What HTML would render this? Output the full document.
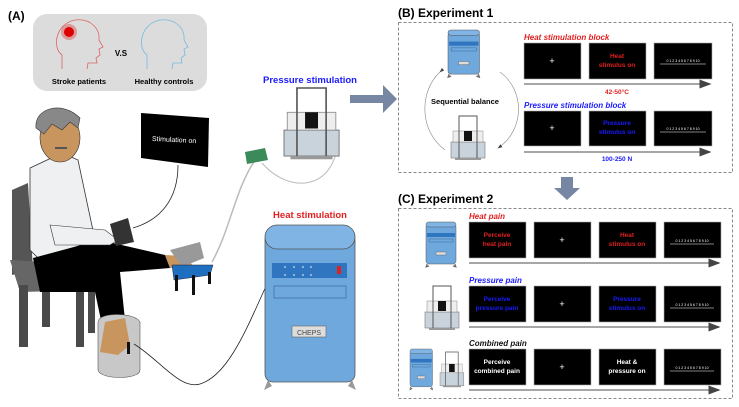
<!DOCTYPE html>
<html><head><meta charset="utf-8"><style>
html,body{margin:0;padding:0;background:#fff;}
svg{display:block;font-family:"Liberation Sans",Arial,sans-serif;}
</style></head><body>
<svg width="739" height="407" viewBox="0 0 739 407" xmlns="http://www.w3.org/2000/svg">
<defs>
<g id="cheps">
 <rect x="0" y="2" width="30" height="40" rx="3" fill="#6fa8dc" stroke="#555" stroke-width="0.5"/>
 <rect x="0" y="0" width="30" height="5" rx="2.5" fill="#7fb4e4" stroke="#555" stroke-width="0.5"/>
 <rect x="1" y="11" width="28" height="4" fill="#2f75c0"/>
 <rect x="3" y="17" width="24" height="3" fill="none" stroke="#3a6a9a" stroke-width="0.5"/>
 <rect x="10" y="30" width="10" height="3" fill="#ddd" stroke="#555" stroke-width="0.4"/>
 <path d="M1 42 l-1 3 l3 -1 M29 42 l1 3 l-3 -1" stroke="#666" fill="#999"/>
</g>
<g id="press">
 <rect x="0" y="26" width="34" height="16" fill="#c9d3dc" stroke="#777" stroke-width="0.6"/>
 <rect x="2" y="15" width="30" height="11" fill="#eee" stroke="#888" stroke-width="0.5"/>
 <rect x="13" y="15" width="8" height="10" fill="#111"/>
 <path d="M8 42 V0 H26 V42" stroke="#555" stroke-width="1" fill="none"/>
 <rect x="4" y="42" width="26" height="2" fill="#999"/>
</g>
<marker id="ah" markerWidth="8" markerHeight="6" refX="7" refY="3" orient="auto"><path d="M0 0 L8 3 L0 6 Z" fill="#444"/></marker>
</defs>

<!-- PANEL A -->
<text x="8" y="20" font-size="12" font-weight="bold">(A)</text>
<rect x="33" y="14" width="174" height="77" rx="14" fill="#dcdcdc"/>
<path d="M62 69 L62 55 C52 48 55 24 75 20 C92 18 100 30 99 40 L103 47 L99 49 L100 55 L96 58 L97 63 L88 63 L87 69" fill="none" stroke="#d66" stroke-width="0.8"/>
<circle cx="69" cy="32" r="5" fill="#d00"/>
<circle cx="69" cy="32" r="8" fill="#d00" opacity="0.3"/>
<path d="M147 69 L147 55 C137 48 140 24 160 20 C177 18 185 30 184 40 L188 47 L184 49 L185 55 L181 58 L182 63 L173 63 L172 69" fill="none" stroke="#7bd" stroke-width="0.8"/>
<text x="121" y="56" font-size="8" font-weight="bold" text-anchor="middle">V.S</text>
<text x="79" y="84" font-size="7.5" font-weight="bold" text-anchor="middle">Stroke patients</text>
<text x="164" y="84" font-size="7.5" font-weight="bold" text-anchor="middle">Healthy controls</text>

<polygon points="141,113 209,118 208,167 141,158" fill="#000"/>
<text x="174" y="142" font-size="7" fill="#fff" text-anchor="middle" transform="rotate(3 174 142)">Stimulation on</text>
<path d="M178 165 C178 200 160 220 133 228" fill="none" stroke="#222" stroke-width="0.8"/>

<path d="M12 190 L28 183 L33 270 L12 275 Z" fill="#555"/>
<path d="M10 260 L95 265 L100 290 L20 292 Z" fill="#666"/>
<rect x="19" y="285" width="9" height="62" fill="#4a4a4a"/>
<rect x="42" y="285" width="8" height="42" fill="#4a4a4a"/>
<rect x="76" y="285" width="8" height="62" fill="#4a4a4a"/>
<rect x="88" y="285" width="7" height="48" fill="#4a4a4a"/>

<path d="M30 168 L62 153 L78 160 L95 240 L40 260 L30 250 Z" fill="#eef0f2" stroke="#333" stroke-width="0.8"/>
<path d="M33 258 L100 240 L165 255 L170 268 L120 272 L125 320 L102 325 L95 292 L40 292 Z" fill="#000"/>
<path d="M105 322 L125 318 L130 345 L118 355 L100 352 Z" fill="#c8955e"/>
<path d="M165 255 L185 256 L195 268 L170 268 Z" fill="#c8955e"/>
<path d="M170 250 L200 242 L204 258 L182 267 Z" fill="#999"/>
<path d="M50 225 L105 230 L118 240 L110 245 L55 245 Z" fill="#eef0f2" stroke="#333" stroke-width="0.6"/>
<polygon points="110,224 128,218 134,242 116,246" fill="#333"/>
<ellipse cx="60" cy="138" rx="20" ry="24" fill="#c8955e" stroke="#333" stroke-width="0.6"/>
<path d="M36 128 C34 108 62 100 80 118 L78 128 L70 122 L62 130 L52 124 L44 134 Z" fill="#888" stroke="#333" stroke-width="0.6"/>
<path d="M55 148 h12" stroke="#555" stroke-width="2"/>
<path d="M98 322 C98 312 135 312 140 322 L140 370 C140 380 100 380 98 370 Z" fill="#c8c8c8" stroke="#555" stroke-width="0.6"/>
<path d="M105 322 L125 318 L130 345 L118 355 L100 352 Z" fill="#c8955e"/>
<rect x="127" y="342" width="3" height="12" fill="#111"/>
<polygon points="172,265 213,265 210,275 174,280" fill="#1f6fc0" stroke="#223" stroke-width="0.5"/>
<rect x="175" y="275" width="3" height="16" fill="#111"/><rect x="192" y="275" width="3" height="20" fill="#111"/><rect x="208" y="272" width="3" height="12" fill="#111"/>
<path d="M255 160 C235 190 230 230 212 262" fill="none" stroke="#bbb" stroke-width="1.5"/>
<path d="M262 163 C290 195 335 190 338 140" fill="none" stroke="#bbb" stroke-width="1"/>
<path d="M134 344 C160 360 180 390 200 384 C230 375 250 320 268 282" fill="none" stroke="#222" stroke-width="0.8"/>
<polygon points="245,152 265,148 268,160 247,164" fill="#3a8a5a"/>

<text x="310" y="83" font-size="9.5" font-weight="bold" fill="#1a1aff" text-anchor="middle">Pressure stimulation</text>
<g transform="translate(284,88) scale(1.62)"><use href="#press"/></g>
<polygon points="350,95 383,95 383,85 397,99 383,113 383,103 350,103" fill="#7686a3"/>

<text x="310" y="218" font-size="9.5" font-weight="bold" fill="#e02020" text-anchor="middle">Heat stimulation</text>
<rect x="265" y="232" width="90" height="150" rx="8" fill="#6fa8dc" stroke="#555" stroke-width="0.8"/>
<rect x="265" y="225" width="90" height="24" rx="12" fill="#7fb4e4" stroke="#555" stroke-width="0.8"/>
<rect x="272" y="263" width="75" height="15" fill="#2f75c0"/>
<rect x="337" y="266" width="4" height="8" fill="#d22"/>
<g fill="#fff"><circle cx="285" cy="267" r="0.8"/><circle cx="294" cy="267" r="0.8"/><circle cx="303" cy="267" r="0.8"/><circle cx="311" cy="267" r="0.8"/><circle cx="285" cy="275" r="0.8"/><circle cx="294" cy="275" r="0.8"/><circle cx="303" cy="275" r="0.8"/><circle cx="311" cy="275" r="0.8"/></g>
<rect x="274" y="286" width="72" height="12" fill="none" stroke="#3a6a9a" stroke-width="0.7"/>
<rect x="292" y="326" width="34" height="11" fill="#ddd" stroke="#666" stroke-width="0.6"/>
<text x="309" y="335" font-size="7" fill="#444" text-anchor="middle">CHEPS</text>
<path d="M268 380 l-4 10 l8 -4 Z M352 380 l4 10 l-8 -4 Z" fill="#999"/>

<!-- PANEL B -->
<text x="398" y="17" font-size="12" font-weight="bold">(B) Experiment 1</text>
<rect x="398.5" y="22.5" width="334" height="150" fill="none" stroke="#888" stroke-dasharray="3,2"/>
<g transform="translate(448,30) scale(1.05)"><use href="#cheps"/></g>
<g transform="translate(451,116) scale(1.0)"><use href="#press"/></g>
<path d="M440 72 C420 90 418 130 445 150" fill="none" stroke="#888" stroke-width="0.6" marker-start="url(#ah)"/>
<path d="M500 72 C525 90 525 130 498 148" fill="none" stroke="#888" stroke-width="0.6" marker-end="url(#ah)"/>
<rect x="428" y="94" width="86" height="14" fill="#fff"/>
<text x="465" y="104" font-size="7.5" font-weight="bold" text-anchor="middle">Sequential balance</text>

<text x="524" y="40" font-size="8" font-weight="bold" font-style="italic" fill="#e02020">Heat stimulation block</text>
<rect x="524" y="43" width="57" height="36" fill="#000" stroke="#aaa" stroke-width="0.6"/>
<rect x="589" y="43" width="57" height="36" fill="#000" stroke="#aaa" stroke-width="0.6"/>
<rect x="654" y="43" width="58" height="36" fill="#000" stroke="#aaa" stroke-width="0.6"/>
<text x="552" y="64" font-size="9" fill="#fff" text-anchor="middle">+</text>
<text x="617" y="58" font-size="6.5" font-weight="bold" fill="#e02020" text-anchor="middle">Heat</text>
<text x="617" y="67" font-size="6.5" font-weight="bold" fill="#e02020" text-anchor="middle">stimulus on</text>
<text x="683" y="62" font-size="3.5" fill="#fff" text-anchor="middle">0 1 2 3 4 5 6 7 8 9 10</text>
<line x1="660" y1="64" x2="706" y2="64" stroke="#fff" stroke-width="0.5"/>
<line x1="524" y1="84" x2="710" y2="84" stroke="#888" stroke-width="1.5" marker-end="url(#ah)"/>
<text x="617" y="94" font-size="6.5" font-weight="bold" fill="#e02020" text-anchor="middle">42-50°C</text>

<text x="524" y="108" font-size="8" font-weight="bold" font-style="italic" fill="#1a1aff">Pressure stimulation block</text>
<rect x="524" y="111" width="57" height="35" fill="#000" stroke="#aaa" stroke-width="0.6"/>
<rect x="589" y="111" width="57" height="35" fill="#000" stroke="#aaa" stroke-width="0.6"/>
<rect x="654" y="111" width="58" height="35" fill="#000" stroke="#aaa" stroke-width="0.6"/>
<text x="552" y="131" font-size="9" fill="#fff" text-anchor="middle">+</text>
<text x="617" y="125" font-size="6.5" font-weight="bold" fill="#1a1aff" text-anchor="middle">Pressure</text>
<text x="617" y="134" font-size="6.5" font-weight="bold" fill="#1a1aff" text-anchor="middle">stimulus on</text>
<text x="683" y="130" font-size="3.5" fill="#fff" text-anchor="middle">0 1 2 3 4 5 6 7 8 9 10</text>
<line x1="660" y1="132" x2="706" y2="132" stroke="#fff" stroke-width="0.5"/>
<line x1="524" y1="152" x2="710" y2="152" stroke="#888" stroke-width="1.5" marker-end="url(#ah)"/>
<text x="617" y="161" font-size="6.5" font-weight="bold" fill="#1a1aff" text-anchor="middle">100-250 N</text>

<polygon points="561,177 573,177 573,188 580,188 567,200 554,188 561,188" fill="#7686a3"/>

<!-- PANEL C -->
<text x="398" y="203" font-size="12" font-weight="bold">(C) Experiment 2</text>
<rect x="398.5" y="208.5" width="334" height="190" fill="none" stroke="#888" stroke-dasharray="3,2"/>
<g transform="translate(426,222)"><use href="#cheps"/></g>
<g transform="translate(425,286) scale(1.0)"><use href="#press"/></g>
<g transform="translate(410,349) scale(0.75 0.9)"><use href="#cheps"/></g>
<g transform="translate(440,352) scale(0.7 0.8)"><use href="#press"/></g>

<g font-weight="bold" text-anchor="middle">
<text x="469" y="219" font-size="8" font-style="italic" fill="#e02020" text-anchor="start">Heat pain</text>
<rect x="469" y="222" width="57" height="36" fill="#000" stroke="#aaa" stroke-width="0.6"/>
<rect x="534" y="222" width="57" height="36" fill="#000" stroke="#aaa" stroke-width="0.6"/>
<rect x="599" y="222" width="57" height="36" fill="#000" stroke="#aaa" stroke-width="0.6"/>
<rect x="664" y="222" width="57" height="36" fill="#000" stroke="#aaa" stroke-width="0.6"/>
<text x="497" y="237" font-size="6.5" fill="#e02020">Perceive</text>
<text x="497" y="246" font-size="6.5" fill="#e02020">heat pain</text>
<text x="562" y="243" font-size="9" fill="#fff" font-weight="normal">+</text>
<text x="627" y="237" font-size="6.5" fill="#e02020">Heat</text>
<text x="627" y="246" font-size="6.5" fill="#e02020">stimulus on</text>
<text x="692" y="242" font-size="3.5" fill="#fff" font-weight="normal">0 1 2 3 4 5 6 7 8 9 10</text>
<line x1="670" y1="244" x2="714" y2="244" stroke="#fff" stroke-width="0.5"/>
<line x1="469" y1="263" x2="719" y2="263" stroke="#888" stroke-width="1.5" marker-end="url(#ah)"/>

<text x="469" y="283" font-size="8" font-style="italic" fill="#1a1aff" text-anchor="start">Pressure pain</text>
<rect x="469" y="286" width="57" height="36" fill="#000" stroke="#aaa" stroke-width="0.6"/>
<rect x="534" y="286" width="57" height="36" fill="#000" stroke="#aaa" stroke-width="0.6"/>
<rect x="599" y="286" width="57" height="36" fill="#000" stroke="#aaa" stroke-width="0.6"/>
<rect x="664" y="286" width="57" height="36" fill="#000" stroke="#aaa" stroke-width="0.6"/>
<text x="497" y="301" font-size="6.5" fill="#1a1aff">Perceive</text>
<text x="497" y="310" font-size="6.5" fill="#1a1aff">pressure pain</text>
<text x="562" y="307" font-size="9" fill="#fff" font-weight="normal">+</text>
<text x="627" y="301" font-size="6.5" fill="#1a1aff">Pressure</text>
<text x="627" y="310" font-size="6.5" fill="#1a1aff">stimulus on</text>
<text x="692" y="306" font-size="3.5" fill="#fff" font-weight="normal">0 1 2 3 4 5 6 7 8 9 10</text>
<line x1="670" y1="308" x2="714" y2="308" stroke="#fff" stroke-width="0.5"/>
<line x1="469" y1="327" x2="719" y2="327" stroke="#888" stroke-width="1.5" marker-end="url(#ah)"/>

<text x="469" y="346" font-size="8" font-style="italic" fill="#111" text-anchor="start">Combined pain</text>
<rect x="469" y="349" width="57" height="36" fill="#000" stroke="#aaa" stroke-width="0.6"/>
<rect x="534" y="349" width="57" height="36" fill="#000" stroke="#aaa" stroke-width="0.6"/>
<rect x="599" y="349" width="57" height="36" fill="#000" stroke="#aaa" stroke-width="0.6"/>
<rect x="664" y="349" width="57" height="36" fill="#000" stroke="#aaa" stroke-width="0.6"/>
<text x="497" y="364" font-size="6.5" fill="#fff">Perceive</text>
<text x="497" y="373" font-size="6.5" fill="#fff">combined pain</text>
<text x="562" y="370" font-size="9" fill="#fff" font-weight="normal">+</text>
<text x="627" y="364" font-size="6.5" fill="#fff">Heat &amp;</text>
<text x="627" y="373" font-size="6.5" fill="#fff">pressure on</text>
<text x="692" y="369" font-size="3.5" fill="#fff" font-weight="normal">0 1 2 3 4 5 6 7 8 9 10</text>
<line x1="670" y1="371" x2="714" y2="371" stroke="#fff" stroke-width="0.5"/>
<line x1="469" y1="390" x2="719" y2="390" stroke="#888" stroke-width="1.5" marker-end="url(#ah)"/>
</g>
</svg>
</body></html>
